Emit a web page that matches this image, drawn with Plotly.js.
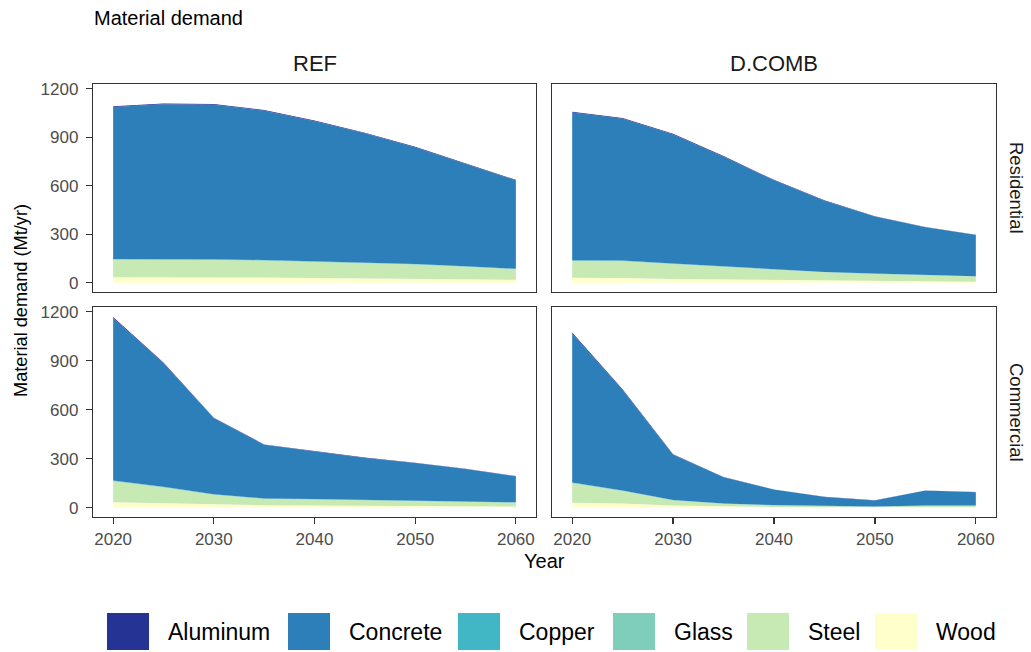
<!DOCTYPE html>
<html>
<head>
<meta charset="utf-8">
<script src="https://cdn.plot.ly/plotly-3.0.1.min.js"></script>
<style>
  html, body { margin: 0; padding: 0; background: #ffffff; }
  #chart { width: 1031px; height: 652px; }
</style>
</head>
<body>
<div id="chart"></div>
<script>
// ---------------- DATA ----------------
const years = [2020, 2025, 2030, 2035, 2040, 2045, 2050, 2055, 2060];
const materials = ['Aluminum', 'Concrete', 'Copper', 'Glass', 'Steel', 'Wood'];
const scenarios = ['REF', 'D.COMB'];
const sectors = ['Residential', 'Commercial'];

// REF - Residential (Mt/yr)
const refRes_Aluminum = [5, 5, 5, 5, 4, 4, 4, 4, 3];
const refRes_Concrete = [940, 958, 956, 923, 867, 798, 720, 632, 547];
const refRes_Copper   = [2, 2, 2, 2, 2, 2, 2, 2, 1];
const refRes_Glass    = [2, 2, 2, 2, 2, 2, 2, 2, 2];
const refRes_Steel    = [108, 108, 107, 105, 100, 96, 89, 78, 65];
const refRes_Wood     = [35, 35, 34, 32, 29, 27, 24, 21, 19];

// D.COMB - Residential
const dcombRes_Aluminum = [5, 5, 4, 4, 3, 3, 2, 2, 2];
const dcombRes_Concrete = [915, 877, 798, 678, 552, 440, 353, 296, 255];
const dcombRes_Copper   = [2, 2, 2, 1, 1, 1, 1, 1, 1];
const dcombRes_Glass    = [2, 2, 2, 2, 1, 1, 1, 1, 1];
const dcombRes_Steel    = [104, 104, 92, 78, 63, 51, 44, 36, 32];
const dcombRes_Wood     = [31, 30, 24, 21, 17, 14, 11, 9, 7];

// REF - Commercial
const refCom_Aluminum = [6, 5, 3, 2, 2, 2, 2, 2, 2];
const refCom_Concrete = [996, 756, 467, 329, 292, 256, 231, 200, 159];
const refCom_Copper   = [2, 2, 1, 1, 1, 1, 1, 1, 1];
const refCom_Glass    = [3, 3, 2, 2, 2, 2, 2, 1, 1];
const refCom_Steel    = [129, 97, 62, 39, 36, 34, 30, 27, 24];
const refCom_Wood     = [33, 27, 17, 15, 14, 12, 10, 8, 7];

// D.COMB - Commercial
const dcombCom_Aluminum = [6, 4, 2, 1, 1, 1, 1, 1, 1];
const dcombCom_Concrete = [913, 616, 278, 161, 95, 56, 36, 91, 81];
const dcombCom_Copper   = [2, 2, 1, 1, 1, 0.5, 0.5, 1, 1];
const dcombCom_Glass    = [3, 2, 1, 1, 1, 1, 1, 1, 1];
const dcombCom_Steel    = [120, 77, 31, 16, 9, 5.5, 4.5, 8, 8];
const dcombCom_Wood     = [30, 25, 14, 8, 5, 3, 2, 4, 4];

// ---------------- STYLE ----------------
const colors = {
  Aluminum: '#253494', Concrete: '#2c7fb8', Copper: '#41b6c4',
  Glass: '#7fcdbb', Steel: '#c7e9b4', Wood: '#ffffcc'
};

const panels = [
  { xa: 'x',  ya: 'y',  series: { Aluminum: refRes_Aluminum, Concrete: refRes_Concrete, Copper: refRes_Copper, Glass: refRes_Glass, Steel: refRes_Steel, Wood: refRes_Wood } },
  { xa: 'x2', ya: 'y2', series: { Aluminum: dcombRes_Aluminum, Concrete: dcombRes_Concrete, Copper: dcombRes_Copper, Glass: dcombRes_Glass, Steel: dcombRes_Steel, Wood: dcombRes_Wood } },
  { xa: 'x3', ya: 'y3', series: { Aluminum: refCom_Aluminum, Concrete: refCom_Concrete, Copper: refCom_Copper, Glass: refCom_Glass, Steel: refCom_Steel, Wood: refCom_Wood } },
  { xa: 'x4', ya: 'y4', series: { Aluminum: dcombCom_Aluminum, Concrete: dcombCom_Concrete, Copper: dcombCom_Copper, Glass: dcombCom_Glass, Steel: dcombCom_Steel, Wood: dcombCom_Wood } }
];

const traces = [];
panels.forEach((p, i) => {
  // stack bottom-up: Wood first ... Aluminum on top (ggplot order)
  materials.slice().reverse().forEach(m => {
    traces.push({
      type: 'scatter', mode: 'lines',
      x: years, y: p.series[m],
      xaxis: p.xa, yaxis: p.ya,
      stackgroup: 'g' + i,
      line: { width: 0, color: colors[m] },
      fillcolor: colors[m],
      name: m, showlegend: false,
      hoverinfo: 'x+y+name'
    });
  });
});

const W = 1031, H = 652;
const px = v => v / W;
const py = v => 1 - v / H;

const xRange = [2018, 2062];
const yRange = [-57, 1230];
const xDomL = [px(93), px(536)];
const xDomR = [px(552), px(996)];
const yDomT = [py(292), py(84)];
const yDomB = [py(517), py(307)];

const tickFont = { family: 'Liberation Sans, Arial, sans-serif', size: 17, color: '#4d4d4d' };
function axis(domain, range, showTicks, anchor, extra) {
  return Object.assign({
    domain: domain, range: range, anchor: anchor,
    showgrid: false, zeroline: false,
    showline: true, mirror: true, linecolor: '#333333', linewidth: 1.2,
    ticks: showTicks ? 'outside' : '', ticklen: 6, tickwidth: 1.2, tickcolor: '#333333',
    showticklabels: showTicks, tickfont: tickFont,
    fixedrange: true
  }, extra || {});
}
const yTicks = { tickmode: 'array', tickvals: [0, 300, 600, 900, 1200], ticktext: ['0', '300', '600', '900', '1200'], ticklabelstandoff: 4 };
const xTicks = { tickmode: 'array', tickvals: [2020, 2030, 2040, 2050, 2060], ticktext: ['2020', '2030', '2040', '2050', '2060'], ticklabelstandoff: 0 };

const layout = {
  width: W, height: H,
  margin: { l: 0, r: 0, t: 0, b: 0 },
  paper_bgcolor: '#ffffff', plot_bgcolor: '#ffffff',
  font: { family: 'Liberation Sans, Arial, sans-serif', color: '#000000' },
  showlegend: false,
  xaxis:  axis(xDomL, xRange, false, 'y',  xTicks),
  xaxis2: axis(xDomR, xRange, false, 'y2', xTicks),
  xaxis3: axis(xDomL, xRange, true,  'y3', xTicks),
  xaxis4: axis(xDomR, xRange, true,  'y4', xTicks),
  yaxis:  axis(yDomT, yRange, true,  'x',  yTicks),
  yaxis2: axis(yDomT, yRange, false, 'x2', yTicks),
  yaxis3: axis(yDomB, yRange, true,  'x3', yTicks),
  yaxis4: axis(yDomB, yRange, false, 'x4', yTicks),
  annotations: [],
  shapes: []
};

const ann = layout.annotations;
// Title
ann.push({ text: 'Material demand', xref: 'paper', yref: 'paper', x: px(92), y: py(18),
  xanchor: 'left', yanchor: 'middle', showarrow: false, font: { size: 20, color: '#000000' } });
// Strip labels (columns)
ann.push({ text: scenarios[0], xref: 'paper', yref: 'paper', x: px((93 + 536) / 2), y: py(63),
  xanchor: 'center', yanchor: 'middle', showarrow: false, font: { size: 22, color: '#1a1a1a' } });
ann.push({ text: scenarios[1], xref: 'paper', yref: 'paper', x: px((552 + 996) / 2), y: py(63),
  xanchor: 'center', yanchor: 'middle', showarrow: false, font: { size: 22, color: '#1a1a1a' } });
// Strip labels (rows)
ann.push({ text: sectors[0], xref: 'paper', yref: 'paper', x: px(1017), y: py(188), textangle: 90,
  xanchor: 'center', yanchor: 'middle', showarrow: false, font: { size: 18.5, color: '#1a1a1a' } });
ann.push({ text: sectors[1], xref: 'paper', yref: 'paper', x: px(1017), y: py(412), textangle: 90,
  xanchor: 'center', yanchor: 'middle', showarrow: false, font: { size: 18.5, color: '#1a1a1a' } });
// Axis titles
ann.push({ text: 'Material demand (Mt/yr)', xref: 'paper', yref: 'paper', x: px(21), y: py(301), textangle: -90,
  xanchor: 'center', yanchor: 'middle', showarrow: false, font: { size: 18.2, color: '#000000' } });
ann.push({ text: 'Year', xref: 'paper', yref: 'paper', x: px(544.5), y: py(560.5),
  xanchor: 'center', yanchor: 'middle', showarrow: false, font: { size: 20, color: '#000000' } });

// Legend (drawn with shapes + text), keys left edges in px
const legendKeyX = [107, 288, 458, 613, 747, 875];
const keyW = 42, keyTop = 613, keyBot = 650, textGap = 17;
materials.forEach((m, i) => {
  const x0 = legendKeyX[i];
  layout.shapes.push({ type: 'rect', xref: 'paper', yref: 'paper',
    x0: px(x0), x1: px(x0 + keyW), y0: py(keyBot), y1: py(keyTop),
    fillcolor: colors[m], line: { width: 0 } });
  ann.push({ text: m, xref: 'paper', yref: 'paper', x: px(x0 + keyW + textGap), y: py(631.5),
    xanchor: 'left', yanchor: 'middle', showarrow: false, font: { size: 23, color: '#000000' } });
});

Plotly.newPlot('chart', traces, layout, { displayModeBar: false, staticPlot: true });
</script>
</body>
</html>
